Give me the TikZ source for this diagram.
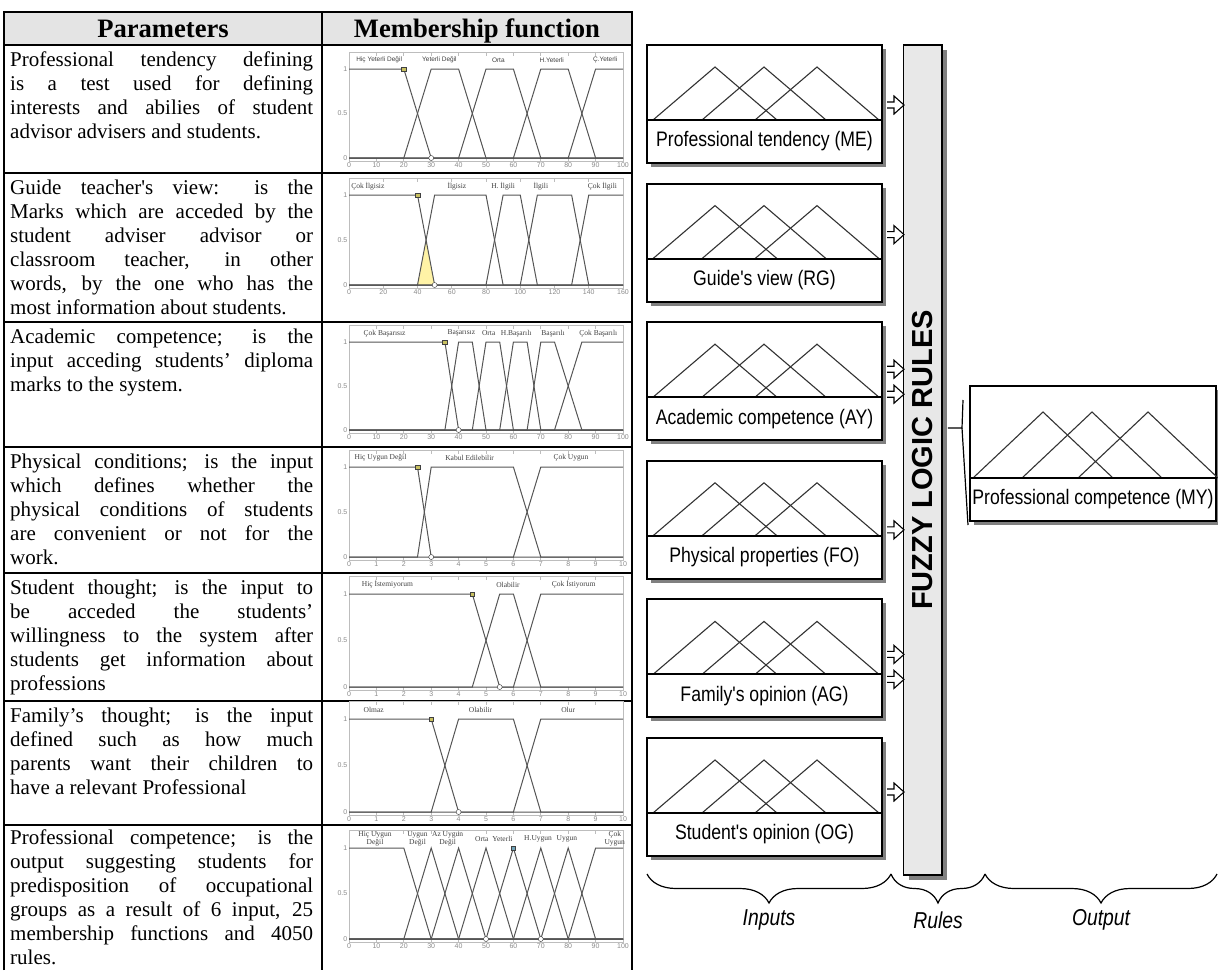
\documentclass[tikz,border=0pt]{standalone}
\usepackage{fontspec}
\setmainfont{Liberation Serif}
\newfontfamily\arialn[FakeStretch=0.84]{Liberation Sans}
\newfontfamily\arialr{Liberation Sans}
\usetikzlibrary{shadows,decorations.pathreplacing,calc}

\definecolor{hdrc}{HTML}{E4E4E4}
\definecolor{barc}{HTML}{E8E8E8}
\definecolor{shd}{HTML}{808080}
\definecolor{frmc}{HTML}{BDBDBD}
\definecolor{tckc}{HTML}{8A8A8A}
\definecolor{mfc}{HTML}{555555}
\definecolor{yelc}{HTML}{FFF3A6}
\definecolor{sqc}{HTML}{C8C060}

% frame and ticks of one membership plot
\newcommand{\mfaxes}[2]{%
  \draw[frm] (0,-0.035) rectangle (#1,1.19);
  \foreach \xx in {0,#2,...,#1} {
    \draw[frm] (\xx,-0.035) -- ++(0,0.04) (\xx,1.19) -- ++(0,-0.04);
    \node[tck,anchor=north] at (\xx,-0.035) {\xx};
  }
  \node[tck,anchor=east] at (0,1) {1};
  \node[tck,anchor=east] at (0,0.5) {0.5};
  \node[tck,anchor=east] at (0,0) {0};
}
% hollow block arrow, tail at #1
\newcommand{\blkarrow}[1]{%
  \draw[blk] (#1) ++(4,-3) -- ++(7,0) -- ++(0,-6) -- ++(10,9) -- ++(-10,9) -- ++(0,-6) -- ++(-7,0);
}

\begin{document}
\begin{tikzpicture}[x=1pt,y=-1pt,
  tbl/.style={line width=2.6pt},
  txt/.style={anchor=north west,inner sep=0pt,text width=303pt,align=justify,
    font=\fontsize{21}{24}\selectfont},
  hd/.style={anchor=base,font=\bfseries\fontsize{26.6}{30}\selectfont},
  frm/.style={draw=frmc,line width=0.8pt},
  tck/.style={text=tckc,inner sep=1.5pt,font=\arialr\fontsize{7}{8}\selectfont},
  mf/.style={draw=mfc,line width=1pt},
  mfl/.style={text=black!75,inner sep=0pt,align=center,font=\fontsize{7.5}{6}\selectfont},
  sqm/.style={draw=black!75,fill=sqc,minimum size=4.5pt,inner sep=0pt},
  crm/.style={circle,draw=black!80,fill=white,minimum size=5pt,inner sep=0pt},
  inbox/.style={draw,line width=2pt,fill=white,minimum width=235pt,minimum height=118pt,
    inner sep=0pt,drop shadow={shadow xshift=4pt,shadow yshift=-4pt,fill=shd,opacity=1}},
  strip/.style={draw,line width=2pt,fill=white,minimum width=235pt,minimum height=43pt,
    inner sep=0pt,font=\arialn\fontsize{21}{24}\selectfont},
  tri/.style={draw=black!80,line width=1.1pt},
  blk/.style={draw,line width=1.1pt,fill=white},
  brc/.style={decorate,decoration={brace,mirror,amplitude=29pt},line width=1.2pt},
  lbl/.style={font=\arialn\itshape\fontsize{23}{26}\selectfont}]

\useasboundingbox (0,0) rectangle (1218,970);

% Tabell
\fill[hdrc] (4,12) rectangle (632,45);
\draw[tbl] (4,970) -- (4,12) -- (632,12) -- (632,970);
\draw[tbl] (322,12) -- (322,970);
\foreach \y in {45,173,322,447,573,701,825}
  \draw[tbl] (4,\y) -- (632,\y);
\node[hd] (h1) at (163,37) {Parameters};
\node[hd] (h2) at (477,37) {Membership function};

% Parametrar
\node[txt] (p1) at (10,51.5) {Professional tendency defining\linebreak is a test used for defining\linebreak interests and abilies of student\linebreak advisor advisers and students.};
\node[txt] (p2) at (10,179.5) {Guide teacher\textquotesingle s view: is the\linebreak Marks which are acceded by the\linebreak student adviser advisor or\linebreak classroom teacher, in other\linebreak words, by the one who has the\linebreak most information about students.};
\node[txt] (p3) at (10,328.5) {Academic competence; is the\linebreak input acceding students’ diploma\linebreak marks to the system.};
\node[txt] (p4) at (10,453.5) {Physical conditions; is the input\linebreak which defines whether the\linebreak physical conditions of students\linebreak are convenient or not for the\linebreak work.};
\node[txt] (p5) at (10,579.5) {Student thought; is the input to\linebreak be acceded the students’\linebreak willingness to the system after\linebreak students get information about\linebreak professions};
\node[txt] (p6) at (10,707.5) {Family’s thought; is the input\linebreak defined such as how much\linebreak parents want their children to\linebreak have a relevant Professional};
\node[txt] (p7) at (10,829) {Professional competence; is the\linebreak output suggesting students for\linebreak predisposition of occupational\linebreak groups as a result of 6 input, 25\linebreak membership functions and 4050\linebreak rules.};

% Plot 1
\begin{scope}[shift={(349pt,-158pt)},x=2.74pt,y=89pt]
  \mfaxes{100}{10}
  \draw[mf] (0,1) -- (20,1) -- (30,0) -- (100,0);
  \foreach \a in {20,40,60}
    \draw[mf] (0,0) -- (\a,0) -- (\a+10,1) -- (\a+20,1) -- (\a+30,0) -- (100,0);
  \draw[mf] (0,0) -- (80,0) -- (90,1) -- (100,1);
  \foreach \xx/\t in {11/Hiç Yeterli Değil,33/Yeterli Değil,54.5/Orta,74/H.Yeterli,93.5/Ç.Yeterli}
    \node[mfl,font=\arialr\fontsize{6.5}{7}\selectfont] at (\xx,1.1) {\t};
  \node[sqm] at (20,1) {};
  \node[crm] at (30,0) {};
\end{scope}

% Plot 2
\begin{scope}[shift={(349pt,-285pt)},x=1.7125pt,y=90pt]
  \fill[yelc] (40,0) -- (45,0.5) -- (50,0) -- cycle;
  \mfaxes{160}{20}
  \draw[mf] (0,1) -- (40,1) -- (50,0) -- (160,0);
  \foreach \a/\b/\c/\d in {40/50/80/90,80/90/100/110,100/110/130/140}
    \draw[mf] (0,0) -- (\a,0) -- (\b,1) -- (\c,1) -- (\d,0) -- (160,0);
  \draw[mf] (0,0) -- (130,0) -- (140,1) -- (160,1);
  \foreach \xx/\t in {11/Çok İlgisiz,63/İlgisiz,90/H. İlgili,112/İlgili,148/Çok İlgili}
    \node[mfl] at (\xx,1.1) {\t};
  \node[sqm] at (40,1) {};
  \node[crm] at (50,0) {};
\end{scope}

% Plot 3
\begin{scope}[shift={(349pt,-430pt)},x=2.74pt,y=88pt]
  \mfaxes{100}{10}
  \draw[mf] (0,1) -- (35,1) -- (40,0) -- (100,0);
  \foreach \a/\b/\c/\d in {35/40/45/50,45/50/55/60,55/60/65/70,65/70/75/85}
    \draw[mf] (0,0) -- (\a,0) -- (\b,1) -- (\c,1) -- (\d,0) -- (100,0);
  \draw[mf] (0,0) -- (75,0) -- (85,1) -- (100,1);
  \foreach \xx/\t in {13/Çok Başarısız,41/Başarısız,51/Orta,61/H.Başarılı,74.5/Başarılı,91/Çok Başarılı}
    \node[mfl] at (\xx,1.1) {\t};
  \node[sqm] at (35,1) {};
  \node[crm] at (40,0) {};
\end{scope}

% Plot 4
\begin{scope}[shift={(349pt,-557pt)},x=27.4pt,y=90pt]
  \mfaxes{10}{1}
  \draw[mf] (0,1) -- (2.5,1) -- (3,0) -- (10,0);
  \draw[mf] (0,0) -- (2.5,0) -- (3,1) -- (6,1) -- (7,0) -- (10,0);
  \draw[mf] (0,0) -- (6,0) -- (7,1) -- (10,1);
  \foreach \xx/\t in {1.15/Hiç Uygun Değil,4.4/Kabul Edilebilir,8.1/Çok Uygun}
    \node[mfl] at (\xx,1.1) {\t};
  \node[sqm] at (2.5,1) {};
  \node[crm] at (3,0) {};
\end{scope}

% Plot 5
\begin{scope}[shift={(349pt,-687pt)},x=27.4pt,y=93pt]
  \mfaxes{10}{1}
  \draw[mf] (0,1) -- (4.5,1) -- (5.5,0) -- (10,0);
  \draw[mf] (0,0) -- (4.5,0) -- (5.5,1) -- (6,1) -- (7,0) -- (10,0);
  \draw[mf] (0,0) -- (6,0) -- (7,1) -- (10,1);
  \foreach \xx/\t in {1.4/Hiç İstemiyorum,5.8/Olabilir,8.2/Çok İstiyorum}
    \node[mfl] at (\xx,1.1) {\t};
  \node[sqm] at (4.5,1) {};
  \node[crm] at (5.5,0) {};
\end{scope}

% Plot 6
\begin{scope}[shift={(349pt,-812pt)},x=27.4pt,y=93pt]
  \mfaxes{10}{1}
  \draw[mf] (0,1) -- (3,1) -- (4,0) -- (10,0);
  \draw[mf] (0,0) -- (3,0) -- (4,1) -- (6,1) -- (7,0) -- (10,0);
  \draw[mf] (0,0) -- (6,0) -- (7,1) -- (10,1);
  \foreach \xx/\t in {0.9/Olmaz,4.8/Olabilir,8.0/Olur}
    \node[mfl] at (\xx,1.1) {\t};
  \node[sqm] at (3,1) {};
  \node[crm] at (4,0) {};
\end{scope}

% Plot 7
\begin{scope}[shift={(349pt,-939pt)},x=2.74pt,y=91pt]
  \mfaxes{100}{10}
  \draw[mf] (0,1) -- (20,1) -- (30,0) -- (100,0);
  \foreach \p in {30,40,...,80}
    \draw[mf] (0,0) -- (\p-10,0) -- (\p,1) -- (\p+10,0) -- (100,0);
  \draw[mf] (0,0) -- (80,0) -- (90,1) -- (100,1);
  \foreach \xx/\t in {9.5/Hiç Uygun\\Değil,25/Uygun\\Değil,36/Az Uygun\\Değil,48.5/Orta,56/Yeterli,69/H.Uygun,79.5/Uygun,97/Çok\\Uygun}
    \node[mfl] at (\xx,1.1) {\t};
  \node[sqm,fill=cyan!40!gray] at (60,1) {};
  \node[crm] at (50,0) {};
  \node[crm] at (70,0) {};
\end{scope}

% Regler
\node[draw,line width=1.5pt,fill=barc,minimum width=38.5pt,minimum height=830pt,inner sep=0pt,
  drop shadow={shadow xshift=5pt,shadow yshift=-5pt,fill=shd,opacity=1}] (rules) at (922.75,460) {};
\node[rotate=90,font=\arialr\bfseries\fontsize{29}{32}\selectfont] (rtxt) at (rules.center) {FUZZY LOGIC RULES};

% Ingangar
\foreach \i/\lab in {1/Professional tendency (ME),2/Guide's view (RG),3/Academic competence (AY),
    4/Physical properties (FO),5/Family's opinion (AG),6/Student's opinion (OG)} {
  \pgfmathsetmacro\T{45+138.6*(\i-1)}
  \node[inbox] (in\i) at (764.5,\T+59) {};
  \foreach \p in {715,764,817}
    \draw[tri] (\p-62,\T+75) -- (\p,\T+22) -- (\p+62,\T+75);
  \node[strip] (lab\i) at (764.5,\T+96.5) {\lab};
}
% pilar till reglerna
\foreach \i/\off in {1/61,2/52,3/48,3/73,4/70,5/56,5/81,6/55} {
  \coordinate (a\i) at ($(in\i.north east)+(0,\off)$);
  \blkarrow{a\i}
}

% Utgang
\node[inbox,minimum width=246pt,minimum height=135pt] (outb) at (1093,453.5) {};
\foreach \p in {1043,1092,1148}
  \draw[tri] (\p-70,478) -- (\p,412) -- (\p+70,478);
\node[strip,minimum width=246pt] (olab) at (1093,499.5) {Professional competence (MY)};
\coordinate (rj) at (962,428);
\draw[line width=1.2pt] (rules.east |- rj) ++(5,0) -- (rj) -- (963,400);
\draw[line width=1.2pt] (rj) -- (968,525);

% Klammer
\coordinate (b0) at (647,874);
\coordinate (b1) at (891,874);
\coordinate (b2) at (985,874);
\coordinate (b3) at (1217,874);
\draw[brc] (b0) -- (b1);
\draw[brc] (b1) -- (b2);
\draw[brc] (b2) -- (b3);
\node[lbl] (l1) at (769,920) {Inputs};
\node[lbl] (l2) at (938,920) {Rules};
\node[lbl] (l3) at (1101,920) {Output};
\end{tikzpicture}
\end{document}
